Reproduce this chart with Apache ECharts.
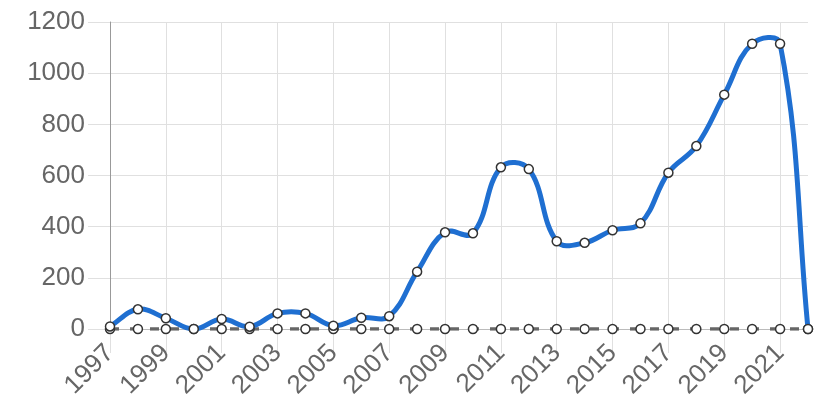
<!DOCTYPE html>
<html>
<head>
<meta charset="utf-8">
<script src="https://cdn.jsdelivr.net/npm/echarts@6/dist/echarts.min.js"></script>
<style>
  html, body { margin: 0; padding: 0; background: #fff; }
  #chart { width: 830px; height: 407px; }
</style>
</head>
<body>
<div id="chart"></div>
<script>
  // years on the x axis
  const years = ['1997', '1998', '1999', '2000', '2001', '2002', '2003', '2004', '2005',
    '2006', '2007', '2008', '2009', '2010', '2011', '2012', '2013', '2014', '2015',
    '2016', '2017', '2018', '2019', '2020', '2021', '2022']
  // main series (blue)
  const counts = [10, 77, 42, 0, 39, 9, 61, 61, 13, 44, 50, 224, 378, 374, 632, 625,
    343, 337, 386, 413, 611, 715, 916, 1115, 1115, 0]
  // flat series along zero
  const zeros = [0, 0, 0, 0, 0, 0, 0, 0, 0, 0, 0, 0, 0, 0, 0, 0, 0, 0, 0, 0, 0, 0, 0, 0, 0, 0]

  const font = 'Liberation Sans, Arial, sans-serif'
  const gridColor = '#e0e0e0'
  const tension = 0.4

  // cardinal-style spline through the points (lets peaks overshoot a bit)
  function splinePath(pts) {
    const cps = pts.map((cur, i) => {
      const prev = pts[i - 1] || cur
      const next = pts[i + 1] || cur
      const d01 = Math.hypot(cur[0] - prev[0], cur[1] - prev[1])
      const d12 = Math.hypot(next[0] - cur[0], next[1] - cur[1])
      const sum = d01 + d12 || 1
      const fa = tension * d01 / sum
      const fb = tension * d12 / sum
      return {
        prev: [cur[0] - fa * (next[0] - prev[0]), cur[1] - fa * (next[1] - prev[1])],
        next: [cur[0] + fb * (next[0] - prev[0]), cur[1] + fb * (next[1] - prev[1])],
      }
    })
    let d = 'M' + pts[0][0] + ' ' + pts[0][1]
    for (let i = 1; i < pts.length; i++) {
      const a = cps[i - 1].next
      const b = cps[i].prev
      d += ' C' + a[0] + ' ' + a[1] + ' ' + b[0] + ' ' + b[1] + ' ' + pts[i][0] + ' ' + pts[i][1]
    }
    return d
  }

  const chart = echarts.init(document.getElementById('chart'), null, { renderer: 'canvas' })
  chart.setOption({
    animation: false,
    grid: { left: 110, right: 22, top: 22, bottom: 78 },
    xAxis: {
      type: 'category',
      data: years,
      boundaryGap: false,
      axisLine: { lineStyle: { color: '#bbb', width: 1 } },
      axisTick: { show: true, interval: 1, length: 24, lineStyle: { color: gridColor } },
      splitLine: { show: true, interval: 1, lineStyle: { color: gridColor } },
      axisLabel: {
        interval: 1,
        rotate: 45,
        margin: 20,
        color: '#666',
        fontSize: 26,
        fontFamily: font,
      },
    },
    yAxis: {
      type: 'value',
      min: 0,
      max: 1200,
      interval: 200,
      axisLine: { show: true, lineStyle: { color: '#999', width: 1 } },
      axisTick: { show: true, length: 22, lineStyle: { color: gridColor } },
      splitLine: { lineStyle: { color: gridColor } },
      axisLabel: {
        margin: 25,
        color: '#666',
        fontSize: 26,
        fontFamily: font,
        formatter: (v) => String(v),
      },
    },
    series: [
      {
        type: 'line',
        data: zeros,
        symbol: 'circle',
        symbolSize: 9,
        itemStyle: { color: '#fff', borderColor: '#333', borderWidth: 1.5 },
        lineStyle: { color: '#666', width: 3.5, type: [9, 11] },
        z: 2,
      },
      {
        // blue curve drawn as one spline path through the axis coordinates
        type: 'custom',
        data: counts.map((v, i) => [i, v]),
        renderItem: (params, api) => {
          if (params.dataIndex !== 0) return null
          const pts = counts.map((v, i) => api.coord([i, v]))
          return {
            type: 'path',
            shape: { pathData: splinePath(pts) },
            style: { fill: null, stroke: '#1f6fd1', lineWidth: 5, lineJoin: 'round', lineCap: 'round' },
          }
        },
        z: 3,
      },
      {
        // markers on the blue curve
        type: 'line',
        data: counts,
        symbol: 'circle',
        symbolSize: 9,
        itemStyle: { color: '#fff', borderColor: '#333', borderWidth: 1.5 },
        lineStyle: { width: 0, opacity: 0 },
        z: 4,
      },
    ],
  })
</script>
</body>
</html>
